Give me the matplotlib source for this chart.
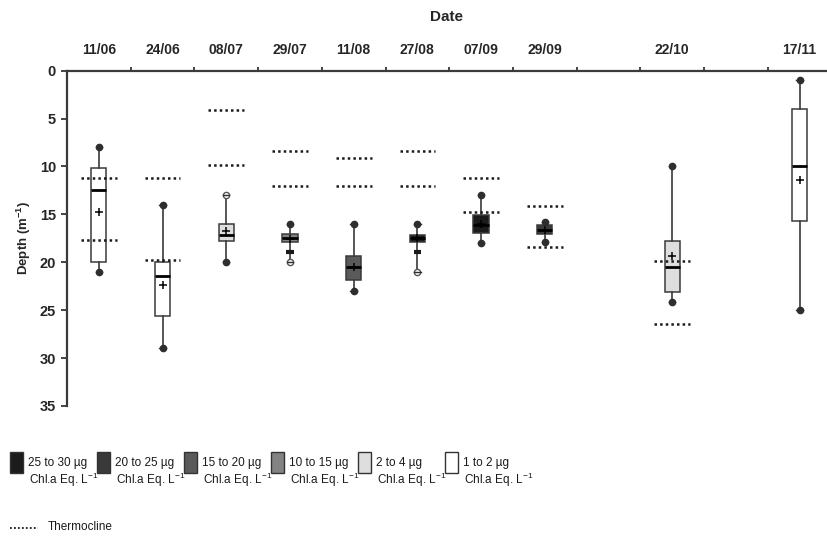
import matplotlib
matplotlib.use("Agg")
import matplotlib.pyplot as plt
from matplotlib.patches import Rectangle
import numpy as np

plt.rcParams['font.family'] = ['Liberation Sans', 'DejaVu Sans']
plt.rcParams['mathtext.fontset'] = 'custom'
plt.rcParams['mathtext.rm'] = 'Liberation Sans'
plt.rcParams['mathtext.bf'] = 'Liberation Sans:bold'

# sampling dates and their slot on the x axis (slots 8 and 10 are empty)
dates = ['11/06', '24/06', '08/07', '29/07', '11/08', '27/08', '07/09', '29/09', '22/10', '17/11']
slots = [0, 1, 2, 3, 4, 5, 6, 7, 9, 11]

# depth statistics (m)
q_top = [10.2, 20.0, 16.0, 17.0, 19.3, 17.1, 15.1, 16.1, 17.8, 4.0]
q_bot = [20.0, 25.6, 17.8, 17.9, 21.9, 17.9, 16.9, 17.0, 23.1, 15.7]
medians = [12.5, 21.4, 17.1, 17.5, 20.5, 17.5, 16.1, 16.6, 20.5, 10.0]
means = [14.8, 22.4, 16.7, 17.6, 20.5, 17.5, 16.0, 16.6, 19.3, 11.4]
whisk_top = [8.0, 14.0, 13.0, 16.0, 16.0, 16.0, 13.0, 15.8, 10.0, 1.0]
whisk_bot = [21.0, 29.0, 20.0, 20.0, 23.0, 21.0, 18.0, 17.9, 24.1, 25.0]
open_top = [False, False, True, False, False, False, False, False, False, False]
open_bot = [False, False, False, True, False, True, False, False, False, False]
extra_cap = [np.nan, np.nan, np.nan, 18.9, np.nan, 18.9, np.nan, np.nan, np.nan, np.nan]

# thermocline limits per date
thermo_top = [11.2, 11.2, 4.1, 8.4, 9.1, 8.4, 11.2, 14.1, 19.9, np.nan]
thermo_bot = [17.7, 19.8, 9.8, 12.0, 12.0, 12.0, 14.8, 18.4, 26.4, np.nan]

# chlorophyll class of each box (index into the legend)
chl_class = [5, 5, 4, 3, 2, 0, 0, 1, 4, 5]
class_labels = ['25 to 30 µg', '20 to 25 µg', '15 to 20 µg', '10 to 15 µg', '2 to 4 µg', '1 to 2 µg']
class_colors = ['#1c1c1c', '#3a3a3a', '#5a5a5a', '#838383', '#dedede', '#ffffff']

fig = plt.figure(figsize=(8.27, 5.38), dpi=100)
ax = fig.add_axes([0.081, 0.2454, 0.919, 0.6232])

ink = '#262626'
stats = []
for i in range(len(dates)):
    stats.append({'med': medians[i], 'q1': q_top[i], 'q3': q_bot[i],
                  'whislo': whisk_top[i], 'whishi': whisk_bot[i],
                  'mean': means[i], 'fliers': []})

bp = ax.bxp(stats, positions=slots, widths=0.24, patch_artist=True,
            showmeans=True, showcaps=False,
            boxprops=dict(edgecolor='#3a3a3a', linewidth=1.1),
            whiskerprops=dict(color='#3a3a3a', linewidth=1.2),
            medianprops=dict(color='black', linewidth=2.0),
            meanprops=dict(marker='+', markeredgecolor='black', markersize=6,
                           markeredgewidth=1.1))
for patch, c in zip(bp['boxes'], chl_class):
    patch.set_facecolor(class_colors[c])

# whisker end markers
for i, x in enumerate(slots):
    for y, is_open in ((whisk_top[i], open_top[i]), (whisk_bot[i], open_bot[i])):
        ax.plot(x, y, marker='o', markersize=4.5,
                markerfacecolor='white' if is_open else '#2e2e2e',
                markeredgecolor='#555555' if is_open else '#2e2e2e',
                markeredgewidth=1.0, zorder=4)
        ax.plot([x - 0.05, x + 0.05], [y, y], color='#2e2e2e',
                linewidth=1.0, zorder=4)
    if not np.isnan(extra_cap[i]):
        ax.plot([x - 0.06, x + 0.06], [extra_cap[i], extra_cap[i]],
                color='#1a1a1a', linewidth=3, solid_capstyle='butt', zorder=4)

# thermocline markers
for i, x in enumerate(slots):
    for y in (thermo_top[i], thermo_bot[i]):
        if not np.isnan(y):
            ax.plot([x - 0.28, x + 0.28], [y, y], color='#1a1a1a',
                    linewidth=1.8, dashes=(1.0, 1.25), zorder=5)

ax.set_ylim(35, 0)
ax.set_xlim(-0.5, 11.43)
ax.set_yticks(np.arange(0, 36, 5))
ax.tick_params(axis='y', direction='out', length=4, width=1.2, color=ink,
               labelsize=10.5, pad=4)
for lab in ax.get_yticklabels():
    lab.set_fontweight('bold')
    lab.set_color(ink)

ax.xaxis.tick_top()
ax.xaxis.set_label_position('top')
ax.set_xticks(slots)
ax.set_xticklabels(dates, fontweight='bold', color=ink)
ax.set_xticks(np.arange(0.5, 11.5, 1), minor=True)
ax.tick_params(axis='x', which='major', length=0, labelsize=10, pad=10)
ax.tick_params(axis='x', which='minor', direction='out', length=3, width=1.2, color=ink)
ax.set_xlabel('Date', fontweight='bold', fontsize=11, color=ink, labelpad=16)
ax.set_ylabel(r'Depth (m$^{\mathbf{-1}}$)', fontweight='bold', fontsize=9.5,
              color=ink, labelpad=5)

for side in ('right', 'bottom'):
    ax.spines[side].set_visible(False)
for side in ('left', 'top'):
    ax.spines[side].set_linewidth(1.6)
    ax.spines[side].set_color('#3a3a3a')

# legend of chlorophyll classes
W, H = 827.0, 538.0
for k, (lab, col) in enumerate(zip(class_labels, class_colors)):
    x0 = 10 + 87 * k
    fig.patches.append(Rectangle((x0 / W, 1 - 473 / H), 13 / W, 21 / H,
                                 transform=fig.transFigure, facecolor=col,
                                 edgecolor='#333333', linewidth=1.0))
    fig.text((x0 + 18) / W, 1 - 463 / H, lab, fontsize=8.5,
             color='#1a1a1a', va='center', ha='left')
    fig.text((x0 + 19) / W, 1 - 480 / H, 'Chl.a Eq. L$^{-1}$', fontsize=8.5,
             color='#1a1a1a', va='center', ha='left')

fig.add_artist(plt.Line2D([10 / W, 38 / W], [1 - 528 / H, 1 - 528 / H],
                          transform=fig.transFigure, color='#1a1a1a',
                          linewidth=1.3, dashes=(1, 1.2)))
fig.text(48 / W, 1 - 527 / H, 'Thermocline', fontsize=8.5,
         color='#1a1a1a', va='center', ha='left')

fig.savefig('out.png', dpi=100)
